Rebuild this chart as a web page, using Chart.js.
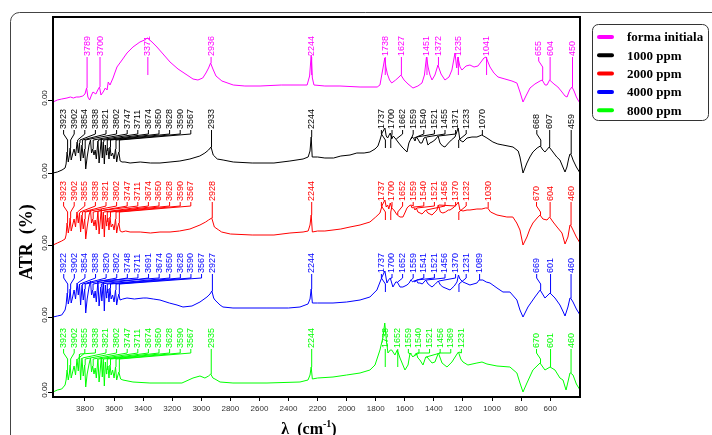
<!DOCTYPE html>
<html>
<head>
<meta charset="utf-8">
<script src="https://cdn.jsdelivr.net/npm/chart.js@4.4.1/dist/chart.umd.min.js"></script>
<style>
  body { margin: 0; background: #fff; }
  #wrap { width: 712px; height: 435px; position: relative; }
</style>
</head>
<body>
<div id="wrap"><canvas id="atrChart"></canvas></div>
<script>
// Spectra: [wavenumber cm-1, signal above own baseline]
const formaInitiala = [[4020,-2],[3990,0],[3960,1],[3924,2],[3900,3],[3880,2],[3860,3],[3840,3],[3815,4],[3800,6],[3789,12],[3780,3],[3768,0],[3755,5],[3745,8],[3725,6],[3712,10],[3700,13],[3690,5],[3675,8],[3660,12],[3648,10],[3640,18],[3628,15],[3607,22],[3595,27],[3580,33],[3545,40],[3511,47],[3470,53],[3422,58],[3390,60],[3371,62],[3339,58],[3305,53],[3263,46],[3215,38],[3160,31],[3098,25],[3057,21],[3023,20],[2990,22],[2968,27],[2950,32],[2936,37],[2920,31],[2899,24],[2858,19],[2780,15],[2700,14],[2596,14],[2450,15],[2321,15],[2272,15],[2255,24],[2244,45],[2236,22],[2225,15],[2150,14],[2046,14],[1908,13],[1790,13],[1771,15],[1755,28],[1745,36],[1738,42],[1730,33],[1720,26],[1705,20],[1690,17],[1663,20],[1640,23],[1627,25],[1605,20],[1578,16],[1544,12],[1510,14],[1482,17],[1465,25],[1451,43],[1440,33],[1427,25],[1413,20],[1393,25],[1372,35],[1351,26],[1324,20],[1296,23],[1276,30],[1255,47],[1243,32],[1235,43],[1220,33],[1207,30],[1179,34],[1152,35],[1124,33],[1097,34],[1076,38],[1056,42],[1041,43],[1028,38],[1014,33],[987,27],[959,23],[911,21],[863,19],[829,17],[808,8],[787,-2],[767,4],[739,12],[705,16],[670,19],[655,20],[635,15],[622,15],[604,20],[574,16],[547,13],[519,8],[498,4],[484,3],[466,10],[450,13],[436,9],[420,3],[409,0],[395,-3]];

const ppm1000 = [[4020,0],[3990,1],[3958,3],[3937,5],[3930,9],[3923,21],[3915,11],[3908,17],[3902,25],[3895,13],[3885,19],[3875,24],[3865,17],[3854,31],[3846,20],[3838,30],[3830,12],[3821,28],[3812,15],[3802,24],[3795,4],[3785,16],[3772,28],[3762,33],[3755,20],[3747,24],[3738,18],[3730,23],[3722,14],[3711,32],[3703,10],[3695,22],[3688,34],[3681,15],[3674,31],[3667,9],[3660,28],[3652,18],[3650,22],[3642,25],[3635,14],[3628,26],[3620,17],[3610,20],[3600,14],[3590,24],[3582,11],[3575,17],[3567,21],[3558,12],[3545,11],[3525,11],[3490,10],[3420,11],[3350,10],[3284,10],[3215,11],[3147,12],[3078,14],[3010,17],[2975,20],[2950,23],[2933,26],[2918,18],[2890,14],[2850,13],[2780,11],[2650,10],[2500,10],[2390,12],[2300,14],[2265,16],[2252,22],[2244,36],[2237,16],[2200,16],[2150,15],[2090,15],[2040,17],[1977,18],[1930,20],[1880,20],[1840,21],[1805,24],[1785,27],[1771,33],[1757,40],[1737,45],[1728,37],[1718,35],[1708,38],[1700,40],[1690,34],[1680,37],[1662,34],[1647,31],[1625,27],[1613,25],[1585,21],[1572,30],[1559,34],[1551,36],[1540,35],[1530,32],[1521,36],[1510,34],[1495,30],[1482,30],[1468,35],[1455,36],[1441,28],[1427,30],[1413,31],[1393,33],[1371,37],[1358,30],[1340,27],[1324,26],[1300,30],[1280,33],[1255,36],[1233,45],[1221,33],[1200,31],[1172,35],[1138,36],[1104,36],[1070,38],[1035,35],[994,31],[960,29],[925,28],[856,26],[820,22],[808,16],[787,0],[760,10],[740,16],[719,21],[690,25],[668,27],[650,23],[636,21],[607,26],[581,21],[555,16],[533,13],[510,5],[498,1],[485,6],[472,15],[464,19],[459,19],[450,16],[443,13],[420,6],[395,0]];

const ppm2000 = [[4020,0],[3990,2],[3960,4],[3937,6],[3930,10],[3923,22],[3915,12],[3908,18],[3902,27],[3895,14],[3885,20],[3875,26],[3865,18],[3855,33],[3846,22],[3838,32],[3830,13],[3821,30],[3812,16],[3802,26],[3795,6],[3785,18],[3772,30],[3762,35],[3755,22],[3747,26],[3738,19],[3730,25],[3722,15],[3711,34],[3703,11],[3695,24],[3688,36],[3681,16],[3674,33],[3667,8],[3660,30],[3652,19],[3650,23],[3642,27],[3635,15],[3628,28],[3620,18],[3610,21],[3600,15],[3590,26],[3582,12],[3575,18],[3567,22],[3558,14],[3545,13],[3520,14],[3490,13],[3420,13],[3350,12],[3284,13],[3215,13],[3150,14],[3078,16],[3009,20],[2970,23],[2950,25],[2928,27],[2910,18],[2880,15],[2860,13],[2800,11],[2650,10],[2500,10],[2390,12],[2300,13],[2265,14],[2252,20],[2244,30],[2236,13],[2200,14],[2150,14],[2094,15],[2040,16],[1977,18],[1908,20],[1840,23],[1800,28],[1771,32],[1755,40],[1737,45],[1728,38],[1718,40],[1710,36],[1700,42],[1690,37],[1675,35],[1662,32],[1652,30],[1633,28],[1613,28],[1600,32],[1585,37],[1572,39],[1559,40],[1550,37],[1540,38],[1530,35],[1521,37],[1510,33],[1495,32],[1482,31],[1468,33],[1456,35],[1441,32],[1427,31],[1413,30],[1393,33],[1379,35],[1370,40],[1355,33],[1338,32],[1320,33],[1300,35],[1289,35],[1260,38],[1241,41],[1232,43],[1221,35],[1200,34],[1172,35],[1152,35],[1104,36],[1070,36],[1045,37],[1030,37],[1010,33],[966,30],[898,28],[857,28],[830,22],[808,15],[787,0],[760,8],[740,16],[719,22],[690,27],[670,30],[650,26],[622,25],[604,28],[580,23],[553,18],[519,12],[498,1],[478,8],[464,20],[460,20],[443,15],[420,8],[395,2]];

const ppm4000 = [[4020,0],[3990,1],[3960,2],[3937,7],[3930,12],[3922,24],[3915,13],[3908,18],[3902,28],[3895,14],[3885,20],[3875,27],[3865,18],[3854,34],[3846,22],[3838,33],[3830,12],[3820,32],[3812,17],[3802,28],[3795,4],[3785,18],[3772,30],[3762,36],[3755,22],[3748,27],[3738,19],[3730,26],[3722,15],[3711,36],[3703,11],[3691,30],[3684,16],[3674,35],[3667,6],[3660,32],[3652,19],[3650,24],[3642,28],[3635,15],[3628,29],[3620,18],[3610,22],[3600,15],[3590,27],[3582,12],[3575,18],[3567,23],[3559,17],[3540,18],[3511,19],[3460,18],[3400,19],[3374,19],[3330,18],[3284,17],[3220,14],[3167,12],[3126,10],[3064,11],[3009,15],[2961,20],[2940,23],[2927,26],[2915,19],[2906,17],[2871,12],[2851,10],[2782,9],[2548,9],[2400,9],[2321,10],[2266,13],[2252,18],[2244,28],[2236,14],[2200,14],[2094,14],[2000,15],[1908,17],[1840,20],[1792,27],[1757,40],[1737,46],[1723,34],[1712,37],[1700,39],[1682,30],[1662,35],[1652,35],[1633,30],[1613,30],[1585,32],[1570,34],[1559,37],[1545,35],[1541,36],[1530,35],[1521,37],[1510,34],[1496,34],[1480,33],[1456,37],[1440,33],[1413,30],[1390,33],[1370,36],[1355,32],[1338,30],[1289,27],[1260,31],[1241,35],[1231,42],[1221,38],[1200,35],[1152,32],[1104,34],[1089,37],[1063,37],[1040,35],[1014,34],[966,29],[925,25],[877,25],[829,17],[808,7],[787,0],[753,10],[705,20],[669,27],[636,19],[601,24],[567,19],[533,12],[510,5],[498,1],[478,10],[464,19],[460,19],[443,15],[420,8],[395,2]];

const ppm8000 = [[4020,0],[3990,2],[3960,3],[3937,7],[3930,12],[3923,22],[3915,12],[3908,18],[3902,27],[3895,14],[3885,20],[3875,26],[3865,17],[3855,33],[3846,21],[3838,38],[3830,12],[3821,34],[3812,16],[3802,27],[3795,5],[3785,18],[3772,28],[3762,34],[3755,20],[3747,26],[3738,18],[3730,24],[3722,14],[3711,33],[3703,10],[3695,22],[3688,35],[3681,15],[3674,33],[3667,6],[3660,30],[3652,18],[3650,22],[3642,26],[3635,14],[3628,27],[3620,17],[3610,22],[3600,14],[3590,25],[3582,12],[3575,16],[3567,20],[3555,13],[3539,12],[3470,10],[3353,9],[3236,9],[3133,9],[3057,14],[3009,16],[2975,14],[2950,16],[2935,18],[2920,14],[2906,13],[2871,10],[2782,9],[2548,9],[2321,10],[2266,12],[2252,17],[2244,25],[2236,13],[2200,14],[2094,15],[2000,17],[1908,19],[1840,22],[1805,27],[1771,42],[1750,55],[1738,69],[1725,49],[1716,39],[1700,42],[1690,42],[1668,37],[1652,42],[1633,34],[1599,22],[1578,27],[1564,39],[1559,38],[1544,35],[1540,36],[1530,37],[1521,39],[1510,34],[1496,32],[1475,27],[1456,35],[1447,35],[1413,29],[1393,30],[1369,39],[1344,29],[1310,25],[1276,30],[1241,38],[1231,40],[1215,33],[1200,30],[1166,27],[1104,29],[1069,30],[1035,28],[966,26],[877,25],[829,19],[808,9],[787,0],[760,9],[719,22],[670,29],[636,22],[601,25],[567,22],[533,14],[512,12],[491,2],[478,10],[464,19],[460,19],[443,17],[420,8],[395,2]];

// marked peaks (cm-1) for each spectrum
const peaksForma = [3789,3700,3371,2936,2244,1738,1627,1451,1372,1235,1041,655,604,450];
const peaks1000 = [3923,3902,3854,3838,3821,3802,3747,3711,3674,3650,3628,3590,3567,2933,2244,1737,1700,1662,1559,1540,1521,1455,1371,1233,1070,668,607,459];
const peaks2000 = [3923,3902,3855,3838,3821,3802,3747,3711,3674,3650,3628,3590,3567,2928,2244,1737,1700,1652,1559,1540,1521,1456,1370,1232,1030,670,604,460];
const peaks4000 = [3922,3902,3854,3838,3820,3802,3748,3711,3691,3674,3650,3628,3590,3567,2927,2244,1737,1700,1652,1559,1541,1521,1456,1370,1231,1089,669,601,460];
const peaks8000 = [3923,3902,3855,3838,3821,3802,3747,3711,3674,3650,3628,3590,3567,2935,2244,1738,1652,1559,1540,1521,1456,1369,1231,670,601,460];

const seriesNames = ['forma initiala', '1000 ppm', '2000 ppm', '4000 ppm', '8000 ppm'];
const seriesColors = ['#ff00ff', '#000000', '#ff0000', '#0000ff', '#00ff00'];
const baselineOffsets = [292, 219, 147, 75, 0];
const xTickValues = [3800,3600,3400,3200,3000,2800,2600,2400,2200,2000,1800,1600,1400,1200,1000,800,600];

const spectra = [formaInitiala, ppm1000, ppm2000, ppm4000, ppm8000];
const peakLists = [peaksForma, peaks1000, peaks2000, peaks4000, peaks8000];

const serif = '"Liberation Serif", "Times New Roman", serif';
const sans = '"Liberation Sans", Arial, sans-serif';

function valueAt(spec, wn) {
    for (let i = 0; i < spec.length - 1; i++) {
        const a = spec[i], b = spec[i + 1];
        if (wn <= a[0] && wn >= b[0]) {
            const t = (a[0] - wn) / ((a[0] - b[0]) || 1);
            return a[1] + t * (b[1] - a[1]);
        }
    }
    return 0;
}

// peak labels with leader lines
function drawPeaks(chart) {
    const ctx = chart.ctx, xs = chart.scales.x, ys = chart.scales.y;
    const gap = 10.6;
    ctx.save();
    ctx.font = '9px ' + sans;
    ctx.lineWidth = 1;
    spectra.forEach((spec, s) => {
        const off = baselineOffsets[s];
        const rowY = ys.getPixelForValue(off) - 43;
        const peaks = peakLists[s].map(wn => ({ wn, px: xs.getPixelForValue(wn) }));
        let prev = -1e9;
        peaks.forEach((p, i) => {
            const next = peaks[i + 1];
            const startsCluster = next && next.px - p.px < gap && p.px > prev + gap;
            let lx = startsCluster ? p.px - 4 : p.px;
            p.lx = Math.max(lx, prev + gap);
            prev = p.lx;
        });
        ctx.strokeStyle = seriesColors[s];
        ctx.fillStyle = seriesColors[s];
        peaks.forEach(p => {
            let cy = ys.getPixelForValue(valueAt(spec, p.wn) + off);
            if (cy < rowY + 3) cy = rowY + 18;
            ctx.beginPath();
            ctx.moveTo(p.lx + 0.5, rowY);
            if (Math.abs(p.lx - p.px) > 0.6) {
                ctx.lineTo(p.lx + 0.5, rowY + 4);
                ctx.lineTo(p.px + 0.5, Math.min(rowY + 10, cy));
            }
            ctx.lineTo(p.px + 0.5, cy);
            ctx.stroke();
            ctx.save();
            ctx.translate(p.lx + 0.5, rowY - 1);
            ctx.rotate(-Math.PI / 2);
            ctx.textAlign = 'left';
            ctx.textBaseline = 'middle';
            ctx.fillText(String(p.wn), 0, 0);
            ctx.restore();
        });
    });
    ctx.restore();
}

function drawDecor(chart) {
    const ctx = chart.ctx, area = chart.chartArea, ys = chart.scales.y;
    ctx.save();
    // outer rounded frame
    ctx.strokeStyle = '#444';
    ctx.lineWidth = 1;
    ctx.beginPath();
    ctx.moveTo(10.5, 440);
    ctx.lineTo(10.5, 22);
    ctx.arcTo(10.5, 12.5, 20, 12.5, 9);
    ctx.lineTo(712, 12.5);
    ctx.stroke();

    // plot box
    ctx.strokeStyle = '#000';
    ctx.lineWidth = 2;
    ctx.strokeRect(area.left, area.top, area.right - area.left, area.bottom - area.top);

    // baseline labels
    ctx.fillStyle = '#222';
    ctx.font = '8px ' + sans;
    baselineOffsets.forEach(off => {
        const y = ys.getPixelForValue(off);
        ctx.save();
        ctx.translate(45, y - 2);
        ctx.rotate(-Math.PI / 2);
        ctx.textAlign = 'center';
        ctx.textBaseline = 'middle';
        ctx.fillText('0.00', 0, 0);
        ctx.restore();
    });

    // axis titles
    ctx.fillStyle = '#000';
    ctx.save();
    ctx.translate(27, 242);
    ctx.rotate(-Math.PI / 2);
    ctx.font = 'bold 18px ' + serif;
    ctx.textAlign = 'center';
    ctx.textBaseline = 'middle';
    ctx.fillText('ATR  (%)', 0, 0);
    ctx.restore();

    ctx.font = 'bold 16px ' + serif;
    const a = '\u03bb  (cm', b = '-1', c = ')';
    const wa = ctx.measureText(a).width, wc = ctx.measureText(c).width;
    ctx.font = 'bold 10px ' + serif;
    const wb = ctx.measureText(b).width;
    let x = 309 - (wa + wb + wc) / 2;
    ctx.textBaseline = 'alphabetic';
    ctx.textAlign = 'left';
    ctx.font = 'bold 16px ' + serif;
    ctx.fillText(a, x, 434);
    ctx.font = 'bold 10px ' + serif;
    ctx.fillText(b, x + wa, 427);
    ctx.font = 'bold 16px ' + serif;
    ctx.fillText(c, x + wa + wb, 434);

    // legend
    ctx.lineWidth = 1;
    ctx.strokeStyle = '#333';
    ctx.fillStyle = '#fff';
    ctx.beginPath();
    ctx.roundRect(592.5, 24.5, 116, 96, 6);
    ctx.fill();
    ctx.stroke();
    ctx.font = 'bold 13px ' + serif;
    ctx.textBaseline = 'middle';
    seriesNames.forEach((name, i) => {
        const y = 37 + i * 18.3;
        ctx.strokeStyle = seriesColors[i];
        ctx.lineWidth = 4;
        ctx.lineCap = 'round';
        ctx.beginPath();
        ctx.moveTo(599, y);
        ctx.lineTo(612, y);
        ctx.stroke();
        ctx.fillStyle = '#000';
        ctx.fillText(name, 627, y + 1);
    });
    ctx.restore();
}

const decorPlugin = {
    id: 'decor',
    afterDatasetsDraw: drawPeaks,
    afterDraw: drawDecor
};

const datasets = spectra.map((spec, i) => ({
    label: seriesNames[i],
    data: spec.map(p => ({ x: p[0], y: p[1] + baselineOffsets[i] })),
    borderColor: seriesColors[i],
    borderWidth: 1,
    pointRadius: 0,
    tension: 0,
    fill: false
}));

const config = {
    type: 'line',
    data: { datasets: datasets },
    options: {
        responsive: true,
        maintainAspectRatio: false,
        animation: false,
        layout: { padding: { left: 0, top: 17, right: 132, bottom: 0 } },
        plugins: { legend: { display: false }, tooltip: { enabled: false } },
        scales: {
            x: {
                type: 'linear',
                reverse: true,
                min: 395,
                max: 4020,
                afterBuildTicks: s => { s.ticks = xTickValues.map(v => ({ value: v })); },
                afterFit: s => { s.height = 38; },
                ticks: {
                    color: '#333',
                    font: { family: sans, size: 8 },
                    padding: 3,
                    maxRotation: 0,
                    autoSkip: false,
                    callback: v => String(v)
                },
                grid: { drawOnChartArea: false, color: '#000', tickLength: 4 },
                border: { color: '#000', width: 2 }
            },
            y: {
                type: 'linear',
                min: -5,
                max: 375,
                afterBuildTicks: s => { s.ticks = baselineOffsets.map(v => ({ value: v })); },
                afterFit: s => { s.width = 53; },
                ticks: { display: false },
                grid: { drawOnChartArea: false, color: '#000', tickLength: 5 },
                border: { color: '#000', width: 2 }
            }
        }
    },
    plugins: [decorPlugin]
};

const ctx = document.getElementById('atrChart').getContext('2d');
const atrChart = new Chart(ctx, config);
</script>
</body>
</html>
